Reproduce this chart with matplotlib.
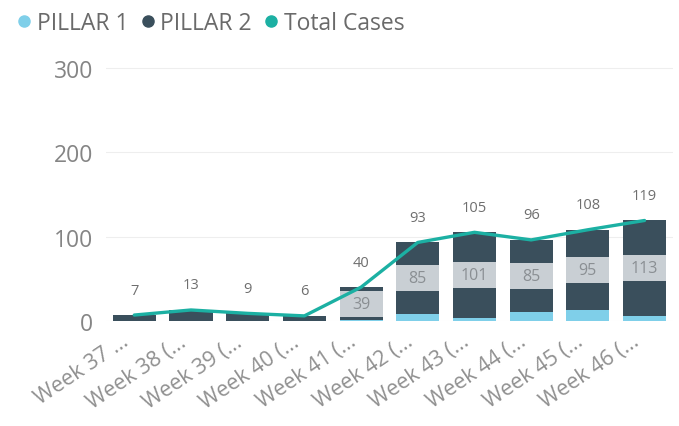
import matplotlib.pyplot as plt
import matplotlib.transforms as mtransforms
import numpy as np

weeks = ["Week 37 …", "Week 38 (…", "Week 39 (…", "Week 40 (…", "Week 41 (…",
         "Week 42 (…", "Week 43 (…", "Week 44 (…", "Week 45 (…", "Week 46 (…"]
pillar1 = [0, 0, 0, 0, 1, 8, 4, 11, 13, 6]
pillar2 = [7, 13, 9, 6, 39, 85, 101, 85, 95, 113]
total_cases = [7, 13, 9, 6, 40, 93, 105, 96, 108, 119]

c_p1 = '#7fcfe9'
c_p2 = '#3a4f5c'
c_total = '#1cb0a3'
c_labelbox = '#c9cfd4'
c_text = '#858585'

plt.rcParams['font.family'] = ['Open Sans', 'DejaVu Sans']

fig = plt.figure(figsize=(6.79, 4.27), dpi=100)
ax = fig.add_axes([0.156, 0.246, 0.835, 0.613])

ind = np.arange(len(weeks))
width = 0.76
p1 = np.array(pillar1)
p2 = np.array(pillar2)

ax.bar(ind, p1, width, color=c_p1, label='PILLAR 1', zorder=2)
ax.bar(ind, p2, width, bottom=p1, color=c_p2, label='PILLAR 2', zorder=2)

# pillar 2 data labels with grey background band (only where bar is tall enough)
box_h = 31
for i in ind:
    if p2[i] >= 30:
        mid = p1[i] + p2[i] / 2
        ax.bar(i, box_h, width, bottom=mid - box_h / 2, color=c_labelbox, zorder=3)
        ax.text(i, mid, str(p2[i]), ha='center', va='center', fontsize=11.5,
                color='#8a8f93', zorder=4)

ax.plot(ind, total_cases, color=c_total, linewidth=2.4, label='Total Cases',
        zorder=5, solid_capstyle='round')

for i, v in zip(ind, total_cases):
    ax.annotate(str(v), (i, v), xytext=(0, 18), textcoords='offset points',
                ha='center', va='center', fontsize=10.5, color='#6f6f6f')

ax.set_xlim(-0.5, len(weeks) - 0.5)
ax.set_ylim(0, 310)
ax.set_yticks([0, 100, 200, 300])
ax.yaxis.grid(True, color='#eeeeee', linewidth=0.8, zorder=0)
ax.set_axisbelow(True)
for s in ax.spines.values():
    s.set_visible(False)
ax.tick_params(axis='both', length=0, colors=c_text)
ax.tick_params(axis='y', labelsize=16.5, pad=9)

ax.set_xticks(ind)
ax.set_xticklabels(weeks, rotation=34, ha='right', rotation_mode='anchor',
                   fontsize=15.5, color='#909090')
ax.tick_params(axis='x', pad=7)
shift = mtransforms.ScaledTranslation(-13 / 100, 0, fig.dpi_scale_trans)
for lbl in ax.get_xticklabels():
    lbl.set_transform(lbl.get_transform() + shift)

mk = [plt.Line2D([], [], marker='o', linestyle='', markersize=8, color=c)
      for c in (c_p1, c_p2, c_total)]
fig.legend(mk, ['PILLAR 1', 'PILLAR 2', 'Total Cases'], loc='upper left',
           bbox_to_anchor=(-0.012, 1.02), ncol=3, frameon=False, fontsize=16.5,
           handletextpad=0.05, columnspacing=0.35, handlelength=1.0,
           labelcolor='#6a6a6a')

plt.savefig('out.png', dpi=100)
